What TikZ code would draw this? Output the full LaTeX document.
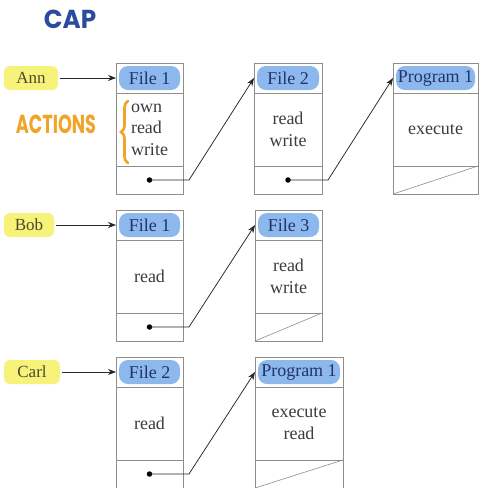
\documentclass[tikz,border=0pt]{standalone}
\usepackage{fontspec}
\setmainfont{Liberation Serif}
\newfontfamily\handfont{Poppins}
\usetikzlibrary{arrows.meta,decorations.pathreplacing}

\definecolor{boxgray}{HTML}{8E8E8E}
\definecolor{hilite}{HTML}{8DB8EE}
\definecolor{labelyellow}{HTML}{F7F27A}
\definecolor{navy}{HTML}{22326A}
\definecolor{ink}{HTML}{3C3C3C}
\definecolor{labelink}{HTML}{4A4A2E}
\definecolor{markerorange}{HTML}{F0A428}
\definecolor{capblue}{HTML}{2B4C9E}

\tikzset{
  cellbox/.style={draw=boxgray, line width=0.6pt, inner sep=0pt, outer sep=0pt,
    anchor=north west},
  headmark/.style={fill=hilite, rounded corners=9pt, inner sep=0pt,
    minimum height=24pt, text=navy, font=\fontsize{18}{20}\selectfont},
  bodytext/.style={text=ink, align=center, inner sep=0pt,
    font=\fontsize{18}{21.5}\selectfont},
  userlabel/.style={fill=labelyellow, rounded corners=6pt, inner sep=0pt,
    minimum height=24pt, text=labelink, font=\fontsize{17}{19}\selectfont},
  ptrdot/.style={circle, fill=black, inner sep=0pt, minimum size=5.5pt},
  link/.style={draw=black!85, line width=0.75pt},
  grant/.style={link, -{Stealth[length=8pt,width=6pt]}},
}

% capability list entry: name, left x, top y, width, object, access rights, text style
\newcommand\capentry[7]{%
  \node[cellbox, minimum width=#4pt, minimum height=30pt] (#1-h) at (#2,#3) {};
  \node[cellbox, minimum width=#4pt, minimum height=73pt] (#1-b) at (#1-h.south west) {};
  \node[cellbox, minimum width=#4pt, minimum height=28pt] (#1-p) at (#1-b.south west) {};
  \node[headmark, minimum width=\dimexpr#4pt-6pt\relax] (#1-t) at (#1-h.center) {#5};
  \node[#7] (#1-r) at (#1-b.center) {#6};
}

\begin{document}
\begin{tikzpicture}[x=1pt, y=-1pt]
\useasboundingbox[fill=white] (0,0) rectangle (481,488);

% title and annotation
\node[text=capblue, font=\handfont\bfseries\fontsize{26}{26}\selectfont, xscale=0.95] (cap) at (70,19) {CAP};
\node[text=markerorange, font=\handfont\bfseries\fontsize{26}{26}\selectfont, xscale=0.68] (actions) at (56,124) {ACTIONS};

% Ann
\node[userlabel, minimum width=54pt] (ann) at (31,78) {Ann};
\capentry{a1}{116}{63}{67}{File 1}{own\\read\\write}{bodytext, align=left}
\capentry{a2}{254}{63}{68}{File 2}{read\\write}{bodytext}
\capentry{a3}{393}{63}{85}{Program 1}{execute}{bodytext}
\draw[markerorange, line width=2.6pt, line cap=round,
  decorate, decoration={brace, amplitude=7pt}] (128,163) -- (128,101);

% Bob
\node[userlabel, minimum width=50pt] (bob) at (29,225) {Bob};
\capentry{b1}{116}{210}{67}{File 1}{read}{bodytext}
\capentry{b2}{255}{210}{67}{File 3}{read\\write}{bodytext}

% Carl
\node[userlabel, minimum width=56pt] (carl) at (32,372) {Carl};
\capentry{c1}{116}{357}{67}{File 2}{read}{bodytext}
\capentry{c2}{255}{357}{88}{Program 1}{execute\\read}{bodytext}

% users point to their capability lists
\draw[grant, shorten <=2pt] (ann.east) -- (a1-h.west);
\draw[grant, shorten <=2pt] (bob.east) -- (b1-h.west);
\draw[grant, shorten <=2pt] (carl.east) -- (c1-h.west);

% next-entry pointers
\foreach \from/\to in {a1/a2, a2/a3, b1/b2, c1/c2} {
  \node[ptrdot] (\from-d) at (\from-p.center) {};
  \draw[grant] (\from-d.center) -- ([xshift=6pt]\from-p.east) -- (\to-h.west);
}

% end of list
\foreach \last in {a3, b2, c2} {
  \draw[draw=boxgray, line width=0.6pt] (\last-p.south west) -- (\last-p.north east);
}
\end{tikzpicture}
\end{document}
